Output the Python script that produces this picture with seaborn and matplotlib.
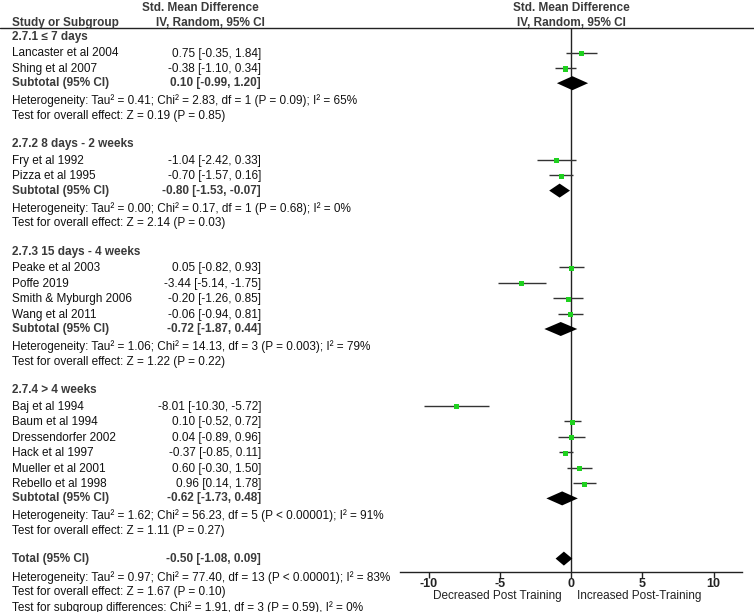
import numpy as np
import pandas as pd
import seaborn as sns
import matplotlib.pyplot as plt

# ---- data ----
group_titles = ["2.7.1 \u2264 7 days", "2.7.2 8 days - 2 weeks",
                "2.7.3 15 days - 4 weeks", "2.7.4 > 4 weeks"]
study_names = [
    ["Lancaster et al 2004", "Shing et al 2007"],
    ["Fry et al 1992", "Pizza et al 1995"],
    ["Peake et al 2003", "Poffe 2019", "Smith & Myburgh 2006", "Wang et al 2011"],
    ["Baj et al 1994", "Baum et al 1994", "Dressendorfer 2002", "Hack et al 1997",
     "Mueller et al 2001", "Rebello et al 1998"],
]
study_est = [[0.75, -0.38], [-1.04, -0.70], [0.05, -3.44, -0.20, -0.06],
             [-8.01, 0.10, 0.04, -0.37, 0.60, 0.96]]
study_lo = [[-0.35, -1.10], [-2.42, -1.57], [-0.82, -5.14, -1.26, -0.94],
            [-10.30, -0.52, -0.89, -0.85, -0.30, 0.14]]
study_hi = [[1.84, 0.34], [0.33, 0.16], [0.93, -1.75, 0.85, 0.81],
            [-5.72, 0.72, 0.96, 0.11, 1.50, 1.78]]
sub_est = [0.10, -0.80, -0.72, -0.62]
sub_lo = [-0.99, -1.53, -1.87, -1.73]
sub_hi = [1.20, -0.07, 0.44, 0.48]
het_text = [
    "Heterogeneity: Tau\u00b2 = 0.41; Chi\u00b2 = 2.83, df = 1 (P = 0.09); I\u00b2 = 65%",
    "Heterogeneity: Tau\u00b2 = 0.00; Chi\u00b2 = 0.17, df = 1 (P = 0.68); I\u00b2 = 0%",
    "Heterogeneity: Tau\u00b2 = 1.06; Chi\u00b2 = 14.13, df = 3 (P = 0.003); I\u00b2 = 79%",
    "Heterogeneity: Tau\u00b2 = 1.62; Chi\u00b2 = 56.23, df = 5 (P < 0.00001); I\u00b2 = 91%",
]
effect_text = [
    "Test for overall effect: Z = 0.19 (P = 0.85)",
    "Test for overall effect: Z = 2.14 (P = 0.03)",
    "Test for overall effect: Z = 1.22 (P = 0.22)",
    "Test for overall effect: Z = 1.11 (P = 0.27)",
]
total_est, total_lo, total_hi = -0.50, -1.08, 0.09
total_notes = [
    "Heterogeneity: Tau\u00b2 = 0.97; Chi\u00b2 = 77.40, df = 13 (P < 0.00001); I\u00b2 = 83%",
    "Test for overall effect: Z = 1.67 (P = 0.10)",
    "Test for subgroup differences: Chi\u00b2 = 1.91, df = 3 (P = 0.59), I\u00b2 = 0%",
]
x_ticks = [-10, -5, 0, 5, 10]
left_label = "Decreased Post Training"
right_label = "Increased Post-Training"

# ---- row layout (in pixel rows, top = 0) ----
rows = []  # (y, kind, payload)
y = 37
for g in range(len(group_titles)):
    rows.append((y, "header", g))
    y += 16.5
    for i in range(len(study_names[g])):
        rows.append((y, "study", (g, i)))
        y += 15.5
    y -= 1.3
    rows.append((y, "sub", g))
    y += 17.5
    rows.append((y, "het", g))
    y += 15.2
    rows.append((y, "eff", g))
    y += 28.5
y -= 1.0
rows.append((y, "total", None))
y += 18.5
for k in range(len(total_notes)):
    rows.append((y, "note", k))
    y += 15.2

recs = []
for ry, kind, p in rows:
    if kind == "study":
        g, i = p
        recs.append(dict(y=ry, est=study_est[g][i], lo=study_lo[g][i], hi=study_hi[g][i]))
df = pd.DataFrame(recs)

sns.set_style("white")
plt.rcParams['font.family'] = ['Liberation Sans', 'DejaVu Sans']
fs = 8.5
dark = "#111111"
grey = "#3a3a3a"

fig = plt.figure(figsize=(7.54, 6.12), dpi=100)
W, H = 754, 612
top_line, axis_line = 28, 572
ax = fig.add_axes([400 / W, (H - axis_line) / H, 342 / W, (axis_line - top_line) / H])
ax_t = fig.add_axes([0, 0, 1, 1], zorder=-1)
ax_t.set_xlim(0, W)
ax_t.set_ylim(H, 0)
ax_t.axis("off")

ax.set_xlim(-12, 12)
ax.set_ylim(axis_line, top_line)
for s in ["left", "right", "top"]:
    ax.spines[s].set_visible(False)
ax.spines["bottom"].set_color("#222222")
ax.spines["bottom"].set_linewidth(1.0)
ax.set_yticks([])
ax.set_xticks(x_ticks)
ax.set_xticklabels([str(t) for t in x_ticks], fontsize=fs + 0.5, fontweight="bold",
                   color="#222222")
ax.tick_params(axis="x", direction="out", length=4, width=1, color="#222222", pad=0.5,
               bottom=True)
ax.axvline(0, color="#222222", lw=1.0, zorder=1)
ax.patch.set_alpha(0)

# confidence intervals and point estimates
ax.hlines(df["y"] - 1, df["lo"], df["hi"], color="#333333", lw=1.0, zorder=2)
sns.scatterplot(data=df, x="est", y="y", ax=ax, marker="s", s=13, color="#1fd11f",
                edgecolor="none", zorder=3, legend=False)
ax.set_xlabel("")
ax.set_ylabel("")


def diamond(yc, est, lo, hi):
    h = 7
    ax.fill([lo, est, hi, est], [yc, yc - h, yc, yc + h], color="black", lw=0, zorder=3)


# header
ax_t.text(200, 8, "Std. Mean Difference", ha="center", va="center", fontsize=fs,
          fontweight="bold", color=grey)
ax_t.text(210, 23, "IV, Random, 95% CI", ha="center", va="center", fontsize=fs,
          fontweight="bold", color=grey)
ax_t.text(12, 23, "Study or Subgroup", ha="left", va="center", fontsize=fs,
          fontweight="bold", color=grey)
ax.text(0, 8, "Std. Mean Difference", ha="center", va="center", fontsize=fs,
        fontweight="bold", color=grey, transform=ax.transData, clip_on=False)
ax.text(0, 23, "IV, Random, 95% CI", ha="center", va="center", fontsize=fs,
        fontweight="bold", color=grey, transform=ax.transData, clip_on=False)
ax_t.plot([0, W], [top_line, top_line], color="#222222", lw=1.0)

name_x, ci_x = 12, 261


def ci_str(e, l, h):
    return f"{e:.2f} [{l:.2f}, {h:.2f}]"


for ry, kind, p in rows:
    if kind == "header":
        ax_t.text(name_x, ry, group_titles[p], ha="left", va="center", fontsize=fs,
                  fontweight="bold", color=grey)
    elif kind == "study":
        g, i = p
        ax_t.text(name_x, ry, study_names[g][i], ha="left", va="center", fontsize=fs, color=dark)
        ax_t.text(ci_x, ry, ci_str(study_est[g][i], study_lo[g][i], study_hi[g][i]),
                  ha="right", va="center", fontsize=fs, color=dark)
    elif kind == "sub":
        ax_t.text(name_x, ry, "Subtotal (95% CI)", ha="left", va="center", fontsize=fs,
                  fontweight="bold", color=grey)
        ax_t.text(ci_x, ry, ci_str(sub_est[p], sub_lo[p], sub_hi[p]), ha="right",
                  va="center", fontsize=fs, fontweight="bold", color=grey)
        diamond(ry, sub_est[p], sub_lo[p], sub_hi[p])
    elif kind == "het":
        ax_t.text(name_x, ry, het_text[p], ha="left", va="center", fontsize=fs, color=dark)
    elif kind == "eff":
        ax_t.text(name_x, ry, effect_text[p], ha="left", va="center", fontsize=fs, color=dark)
    elif kind == "total":
        ax_t.text(name_x, ry, "Total (95% CI)", ha="left", va="center", fontsize=fs,
                  fontweight="bold", color=grey)
        ax_t.text(ci_x, ry, ci_str(total_est, total_lo, total_hi), ha="right",
                  va="center", fontsize=fs, fontweight="bold", color=grey)
        diamond(ry, total_est, total_lo, total_hi)
    elif kind == "note":
        ax_t.text(name_x, ry, total_notes[p], ha="left", va="center", fontsize=fs, color=dark)

ax.text(-0.65, 596, left_label, ha="right", va="center", fontsize=fs, color="#222222",
        transform=ax.transData, clip_on=False)
ax.text(0.4, 596, right_label, ha="left", va="center", fontsize=fs, color="#222222",
        transform=ax.transData, clip_on=False)

fig.savefig("out.png", dpi=100)
